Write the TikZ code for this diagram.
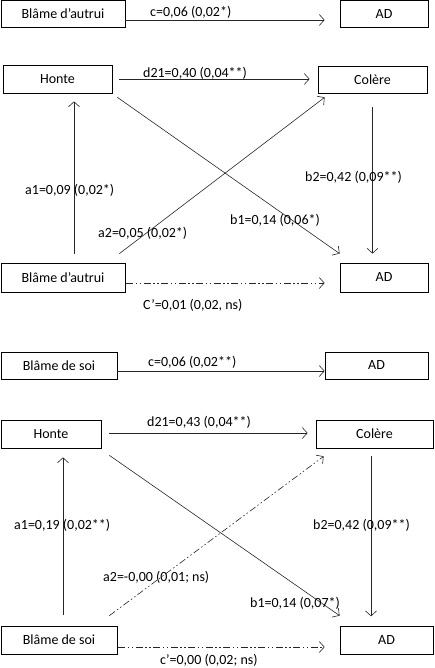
\documentclass[tikz,border=0pt]{standalone}
\usepackage{fontspec}
\setmainfont{Carlito}
\usetikzlibrary{arrows.meta,calc}
\tikzset{
  box/.style={draw=black, line width=0.7pt, inner sep=0pt, minimum height=27pt},
  lab/.style={inner sep=0pt, anchor=west},
  conn/.style={draw=black!85, line width=0.6pt, -{Straight Barb[length=5pt,width=11pt,line width=0.6pt]}},
  dd/.style={dash pattern=on 7pt off 2.5pt on 1.5pt off 2.5pt on 1.5pt off 2.5pt},
}
\begin{document}
\begin{tikzpicture}[x=1pt,y=-1pt,font=\fontsize{14}{16}\selectfont]
\useasboundingbox (0,0) rectangle (434,668);
% ---- top: total effect
\node[box, minimum width=124pt] (B1) at (63,14) {Blâme d’autrui};
\node[box, minimum width=88pt] (AD1) at (384,14) {AD};
\draw[conn] ($(B1.east)+(0,6)$) -- ($(AD1.west)+(-15,6)$);
\node[lab] (lc1) at (150,12) {c=0,06 (0,02*)};
% ---- first mediation model
\node[box, minimum width=109pt, minimum height=28pt] (H1) at (57.5,79) {Honte};
\node[box, minimum width=109pt] (C1) at (372.5,79.5) {Colère};
\node[box, minimum width=124pt, minimum height=29pt] (B1b) at (63,277.5) {Blâme d’autrui};
\node[box, minimum width=88pt, minimum height=29pt] (AD1b) at (384,277.5) {AD};
\draw[conn] ($(H1.east)+(7,0)$) -- ($(C1.west)+(-8,-0.5)$);
\draw[conn] ($(B1b.north)+(11,-9)$) -- ($(H1.south)+(16.5,8)$);
\draw[conn] ($(H1.south east)+(5,4)$) -- ($(AD1b.north west)+(0,-9)$);
\draw[conn] ($(B1b.north east)+(-6,-9)$) -- ($(C1.south west)+(7,4)$);
\draw[conn] ($(C1.south)+(0,14)$) -- ($(C1.south |- AD1b.north)+(0,-9)$);
\draw[conn, dd] ($(B1b.east)+(1,5.5)$) -- ($(AD1b.west)+(-15,5.5)$);
\node[lab] (ld1) at (143,73) {d21=0,40 (0,04**)};
\node[lab] (la11) at (25,190) {a1=0,09 (0,02*)};
\node[lab] (la21) at (98,233) {a2=0,05 (0,02*)};
\node[lab] (lb11) at (230,220) {b1=0,14 (0,06*)};
\node[lab] (lb21) at (305,177) {b2=0,42 (0,09**)};
\node[lab] (lcp1) at (143,305) {C’=0,01 (0,02, ns)};
% ---- second total effect
\node[box, minimum width=116pt] (B2) at (59,365.5) {Blâme de soi};
\node[box, minimum width=103pt] (AD2) at (376.5,365.5) {AD};
\draw[conn] ($(B2.east)+(0,5.5)$) -- ($(AD2.west)+(0,5.5)$);
\node[lab] (lc2) at (148,362) {c=0,06 (0,02**)};
% ---- second mediation model
\node[box, minimum width=100pt, minimum height=28pt] (H2) at (51,434) {Honte};
\node[box, minimum width=117pt, minimum height=28pt] (C2) at (374.5,434) {Colère};
\node[box, minimum width=116pt, minimum height=28pt] (B2b) at (59,640) {Blâme de soi};
\node[box, minimum width=93pt, minimum height=28pt] (AD2b) at (386.5,640) {AD};
\draw[conn] ($(H2.east)+(8,-1)$) -- ($(C2.west)+(-8,-1)$);
\draw[conn] ($(B2b.north)+(4,-11)$) -- ($(H2.south)+(12,9)$);
\draw[conn] ($(H2.south east)+(8,7)$) -- ($(AD2b.north west)+(0,-10)$);
\draw[conn, dd] ($(B2b.north east)+(-8,-10)$) -- ($(C2.south west)+(8,8)$);
\draw[conn] ($(C2.south)+(-3.5,8)$) -- ($(C2.south)+(-3.5,168)$);
\draw[conn, dd] ($(B2b.east)+(1,7)$) -- ($(AD2b.west)+(-15,7)$);
\node[lab] (ld2) at (147,422) {d21=0,43 (0,04**)};
\node[lab] (la12) at (14,525) {a1=0,19 (0,02**)};
\node[lab] (lb22) at (313,525) {b2=0,42 (0,09**)};
\node[lab] (la22) at (103,577) {a2=-0,00 (0,01; ns)};
\node[lab] (lb12) at (250,603) {b1=0,14 (0,07*)};
\node[lab] (lcp2) at (160,660) {c’=0,00 (0,02; ns)};
\end{tikzpicture}
\end{document}
